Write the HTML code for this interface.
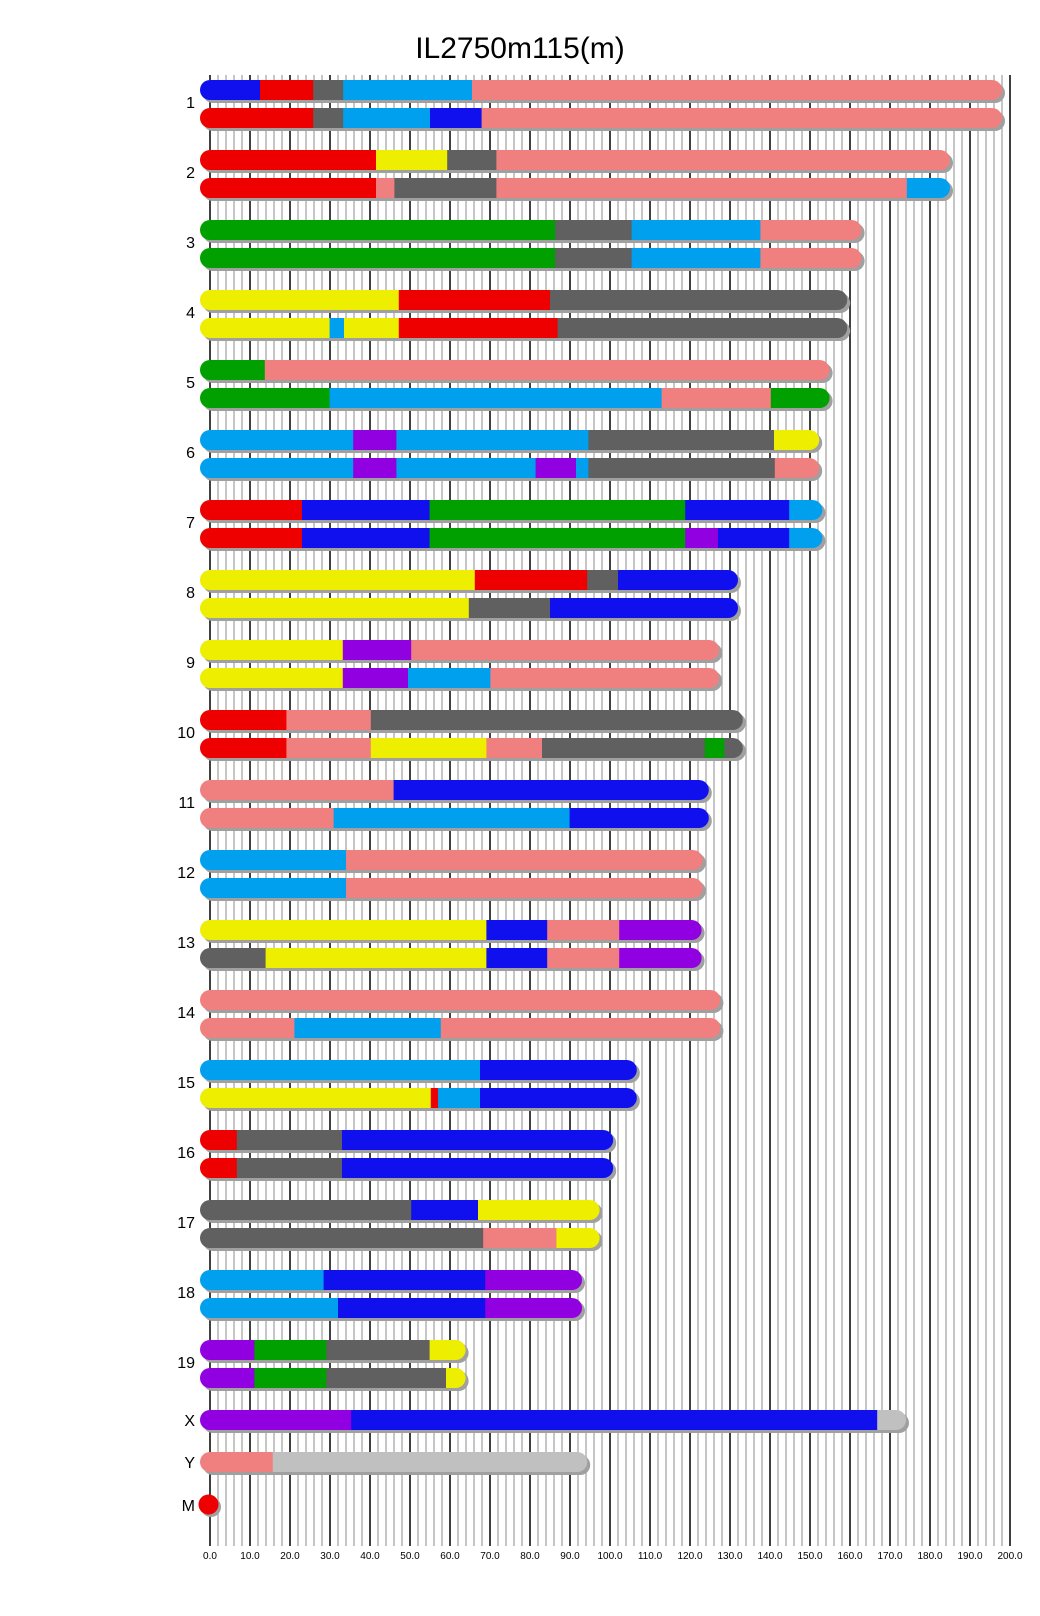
<!DOCTYPE html>
<html><head><meta charset="utf-8"><style>
html,body{margin:0;padding:0;background:#fff;}
svg{display:block;}
text{font-family:"Liberation Sans",Arial,sans-serif;fill:#000;}
</style></head><body>
<svg id="s" width="1040" height="1616" viewBox="0 0 1040 1616" xmlns="http://www.w3.org/2000/svg">
<g id="grid"></g>
<g id="bars"></g>
<text x="520" y="58" font-size="30" text-anchor="middle">IL2750m115(m)</text>
<g font-size="16" text-anchor="end">
<text x="195" y="108">1</text><text x="195" y="178">2</text><text x="195" y="248">3</text><text x="195" y="318">4</text><text x="195" y="388">5</text><text x="195" y="458">6</text><text x="195" y="528">7</text><text x="195" y="598">8</text><text x="195" y="668">9</text><text x="195" y="738">10</text><text x="195" y="808">11</text><text x="195" y="878">12</text><text x="195" y="948">13</text><text x="195" y="1018">14</text><text x="195" y="1088">15</text><text x="195" y="1158">16</text><text x="195" y="1228">17</text><text x="195" y="1298">18</text><text x="195" y="1368">19</text><text x="195" y="1426">X</text><text x="195" y="1468">Y</text><text x="195" y="1511">M</text>
</g>
<g font-size="10" text-anchor="middle">
<text x="210" y="1559">0.0</text><text x="250" y="1559">10.0</text><text x="290" y="1559">20.0</text><text x="330" y="1559">30.0</text><text x="370" y="1559">40.0</text><text x="410" y="1559">50.0</text><text x="450" y="1559">60.0</text><text x="490" y="1559">70.0</text><text x="530" y="1559">80.0</text><text x="570" y="1559">90.0</text><text x="610" y="1559">100.0</text><text x="650" y="1559">110.0</text><text x="690" y="1559">120.0</text><text x="730" y="1559">130.0</text><text x="770" y="1559">140.0</text><text x="810" y="1559">150.0</text><text x="850" y="1559">160.0</text><text x="890" y="1559">170.0</text><text x="930" y="1559">180.0</text><text x="970" y="1559">190.0</text><text x="1010" y="1559">200.0</text>
</g>
</svg>
<script>
var NS="http://www.w3.org/2000/svg";
function el(p,n,a){var e=document.createElementNS(NS,n);for(var k in a)e.setAttribute(k,a[k]);p.appendChild(e);return e;}
var g=document.getElementById('grid');
for(var k=0;k<=100;k++){var x=210+8*k;var blk=(k%5==0);
 el(g,'line',{x1:x,x2:x,y1:75,y2:1546,stroke:blk?'#000':'#a0a0a0','stroke-width':blk?1.5:1.2});}
var C={B:'#1010ee',R:'#ee0000',G:'#606060',L:'#00a0ee',S:'#f08080',Y:'#eeee00',N:'#00a000',P:'#9000e0',Q:'#c0c0c0'};
var D=[
[[198,['B',12.5,'R',25.8,'G',33.3,'L',65.5,'S']],[198,['R',25.8,'G',33.3,'L',55,'B',67.9,'S']]],
[[185,['R',41.5,'Y',59.3,'G',71.6,'S']],[185,['R',41.5,'S',46.1,'G',71.6,'S',174.2,'L']]],
[[162.9,['N',86.3,'G',105.4,'L',137.6,'S']],[162.9,['N',86.3,'G',105.4,'L',137.6,'S']]],
[[159.3,['Y',47.2,'R',85,'G']],[159.3,['Y',29.9,'L',33.5,'Y',47.2,'R',86.9,'G']]],
[[154.9,['N',13.7,'S']],[154.9,['N',29.9,'L',112.9,'S',140.2,'N']]],
[[152.3,['L',35.8,'P',46.6,'L',94.6,'G',141,'Y']],[152.3,['L',35.8,'P',46.6,'L',81.4,'P',91.5,'L',94.6,'G',141.2,'S']]],
[[153.1,['R',23,'B',54.9,'N',118.8,'B',144.8,'L']],[153.1,['R',23,'B',54.9,'N',118.8,'P',127,'B',144.8,'L']]],
[[132,['Y',66.2,'R',94.3,'G',102,'B']],[132,['Y',64.7,'G',85,'B']]],
[[127.3,['Y',33.2,'P',50.3,'S']],[127.3,['Y',33.2,'P',49.5,'L',70.1,'S']]],
[[133.2,['R',19.1,'S',40.2,'G']],[133.2,['R',19.1,'S',40.2,'Y',69.1,'S',83,'G',123.7,'N',128.6,'G']]],
[[124.7,['S',45.9,'B']],[124.7,['S',30.9,'L',89.9,'B']]],
[[123.2,['L',34,'S']],[123.2,['L',34,'S']]],
[[122.9,['Y',69.1,'B',84.3,'S',102.3,'P']],[122.9,['G',13.9,'Y',69.1,'B',84.3,'S',102.3,'P']]],
[[127.6,['S']],[127.6,['S',21.1,'L',57.7,'S']]],
[[106.7,['L',67.5,'B']],[106.7,['Y',55.2,'R',57,'L',67.5,'B']]],
[[100.8,['R',6.7,'G',33,'B']],[100.8,['R',6.7,'G',33,'B']]],
[[97.4,['G',50.3,'B',67,'Y']],[97.4,['G',68.3,'S',86.6,'Y']]],
[[93,['L',28.4,'B',68.8,'P']],[93,['L',32,'B',68.8,'P']]],
[[63.9,['P',11.1,'N',29.1,'G',54.9,'Y']],[63.9,['P',11.1,'N',29.1,'G',59,'Y']]]
];
var bars=document.getElementById('bars'),cid=0;
function bar(y,end,segs){
 var x0=200,x1=210+4*end,h=20,r=10;
 el(bars,'rect',{x:x0+3,y:y+3,width:x1-x0,height:h,rx:r,ry:r,fill:'#a0a0a0'});
 var id='c'+(cid++);var cp=el(bars,'clipPath',{id:id});
 el(cp,'rect',{x:x0,y:y,width:x1-x0,height:h,rx:r,ry:r});
 var gg=el(bars,'g',{'clip-path':'url(#'+id+')'});
 var s=x0;
 for(var i=0;i<segs.length;i+=2){var col=C[segs[i]];var e=(i+1<segs.length)?210+4*segs[i+1]:x1;
  el(gg,'rect',{x:s,y:y,width:e-s+0.5,height:h,fill:col});s=e;}
}
for(var i=0;i<D.length;i++){var y=80+70*i;bar(y,D[i][0][0],D[i][0][1]);bar(y+28,D[i][1][0],D[i][1][1]);}
bar(1410,174,['P',35.3,'B',166.8,'Q']);
bar(1452,94.3,['S',15.7,'Q']);
el(bars,'circle',{cx:211,cy:1507,r:10,fill:'#a0a0a0'});
el(bars,'circle',{cx:208.5,cy:1504.5,r:10,fill:'#ee0000'});
</script>
</body></html>
